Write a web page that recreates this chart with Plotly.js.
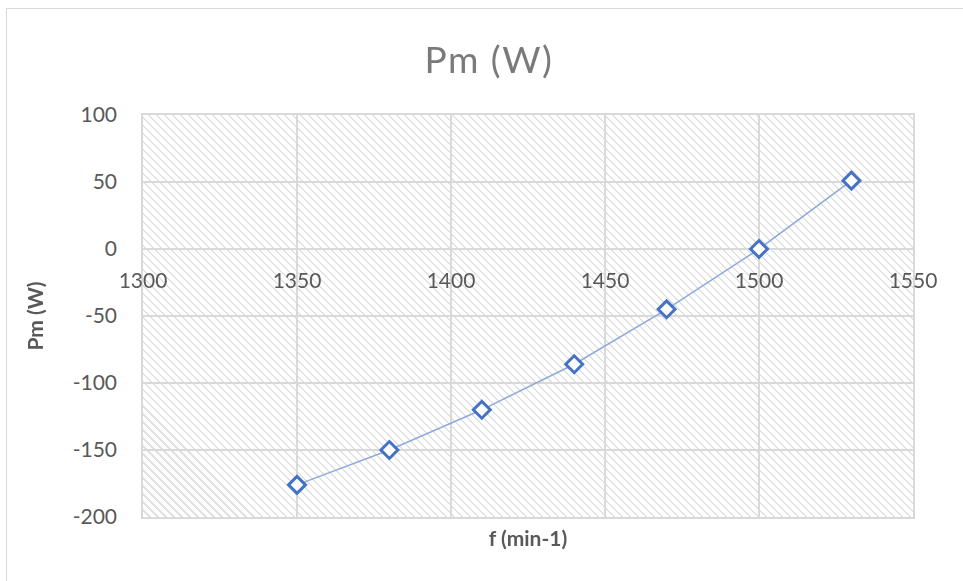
<!DOCTYPE html>
<html>
<head>
<meta charset="utf-8">
<script src="https://cdn.plot.ly/plotly-3.0.1.min.js"></script>
<style>
  html, body { margin: 0; padding: 0; background: #ffffff; overflow: hidden; }
  #frame { position: absolute; left: 6px; top: 8px; width: 1200px; height: 900px;
           border-left: 1.5px solid #d9d9d9; border-top: 1.5px solid #d9d9d9; box-sizing: border-box; }
  #hatch { position: absolute; left: 143px; top: 115px; width: 770px; height: 402px;
           background-color: #ffffff;
           background-image: repeating-linear-gradient(45deg, rgba(255,255,255,0) 0px, rgba(255,255,255,0) 4.2px, #e2e2e2 4.2px, #e2e2e2 5.66px); }
  #chart { position: absolute; left: 0; top: 0; width: 963px; height: 581px; }
  .gtitle { letter-spacing: 1.5px; }
</style>
</head>
<body>
<div id="frame"></div>
<div id="hatch"></div>
<div id="chart"></div>
<script>
// Data
const freq = [1350, 1380, 1410, 1440, 1470, 1500, 1530];
const pm = [-176, -150, -120, -86, -45, 0, 51];
const xTickVals = [1300, 1350, 1400, 1450, 1500, 1550];
const xTickText = ['1300', '1350', '1400', '1450', '1500', '1550'];
const yTickVals = [-200, -150, -100, -50, 0, 50, 100];
const yTickText = ['-200', '-150', '-100', '-50', '0', '50', '100'];
const chartTitle = 'Pm (W)';
const xTitle = 'f (min-1)';
const yTitle = 'Pm (W)';

const gridColor = '#d9d9d9';
const textColor = '#595959';
const fontFamily = 'Lato, "Open Sans", "Liberation Sans", sans-serif';

const traces = [
  {
    x: freq, y: pm,
    type: 'scatter', mode: 'lines+markers',
    line: { color: '#8eaadb', width: 1.5 },
    marker: { symbol: 'diamond', size: 13, color: '#ffffff', line: { color: '#4472c4', width: 3 } },
    hoverinfo: 'x+y', showlegend: false
  },
  {
    x: freq, y: pm, xaxis: 'x2', yaxis: 'y',
    type: 'scatter', mode: 'markers', opacity: 0,
    marker: { size: 1 }, hoverinfo: 'skip', showlegend: false
  }
];

const layout = {
  width: 963, height: 581,
  margin: { l: 143, r: 50, t: 115, b: 64 },
  paper_bgcolor: 'rgba(0,0,0,0)',
  plot_bgcolor: 'rgba(0,0,0,0)',
  font: { family: fontFamily, color: textColor, size: 21 },
  title: {
    text: chartTitle,
    font: { family: fontFamily, size: 37, weight: 400, color: '#7a7a7a' },
    x: 489 / 963, xref: 'container', xanchor: 'center',
    y: 1 - 60 / 581, yref: 'container', yanchor: 'middle'
  },
  xaxis: {
    range: [1300, 1550],
    tickvals: xTickVals, ticktext: xTickText,
    showticklabels: false,
    showgrid: true, gridcolor: gridColor, gridwidth: 1.5,
    showline: true, linecolor: gridColor, linewidth: 1.5, mirror: true,
    zeroline: false, ticks: '',
    title: { text: xTitle, font: { family: fontFamily, size: 21, weight: 'bold', color: textColor }, standoff: 14 }
  },
  xaxis2: {
    range: [1300, 1550],
    overlaying: 'x', anchor: 'free', position: 2 / 3,
    tickvals: xTickVals, ticktext: xTickText,
    showgrid: false, showline: false, zeroline: false, ticks: '',
    ticklabelstandoff: 17,
    tickfont: { family: fontFamily, size: 21, color: textColor }
  },
  yaxis: {
    range: [-200, 100],
    tickvals: yTickVals, ticktext: yTickText,
    showgrid: true, gridcolor: gridColor, gridwidth: 1.5,
    showline: true, linecolor: gridColor, linewidth: 1.5, mirror: true,
    zeroline: false, ticks: '',
    ticklabelstandoff: 20,
    tickfont: { family: fontFamily, size: 21, color: textColor },
    title: { text: yTitle, font: { family: fontFamily, size: 21, weight: 'bold', color: textColor }, standoff: 23 }
  }
};

Plotly.newPlot('chart', traces, layout, { displayModeBar: false });
</script>
</body>
</html>
